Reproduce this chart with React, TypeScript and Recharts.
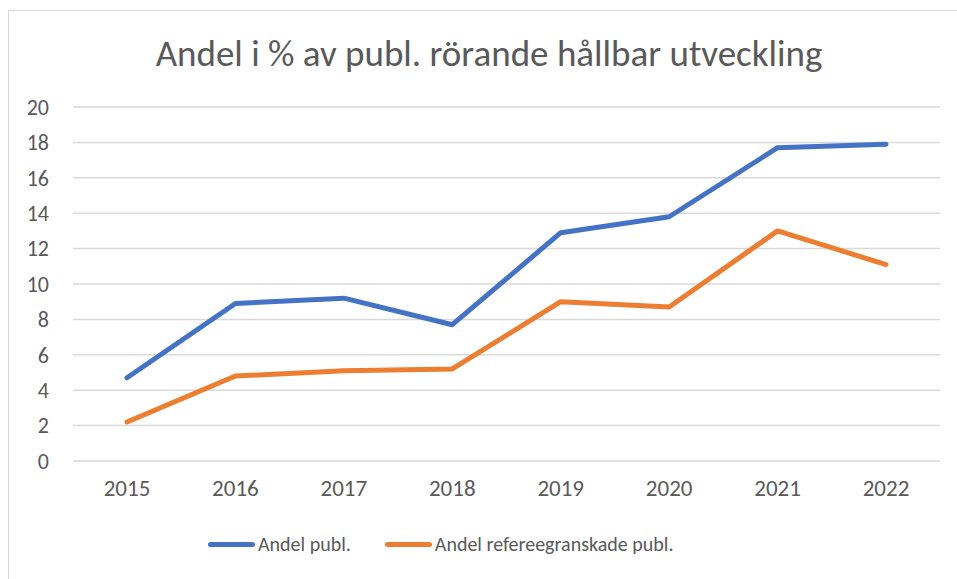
import { LineChart, Line, XAxis, YAxis, CartesianGrid } from "recharts";

const years = ["2015", "2016", "2017", "2018", "2019", "2020", "2021", "2022"];
const andelPubl = [4.7, 8.9, 9.2, 7.7, 12.9, 13.8, 17.7, 17.9];
const andelReferee = [2.2, 4.8, 5.1, 5.2, 9.0, 8.7, 13.0, 11.1];
const yTicks = [0, 2, 4, 6, 8, 10, 12, 14, 16, 18, 20];

const seriesNames = ["Andel publ.", "Andel refereegranskade publ."];
const colors = ["#4472C4", "#ED7D31"];

const chartData = years.map((year, i) => ({
  year,
  publ: andelPubl[i],
  referee: andelReferee[i],
}));

const font = "Carlito, 'Open Sans', 'Noto Sans', sans-serif";
const textColor = "#595959";

// legend drawn as plain html so it doesn't eat plot height
function ChartLegend() {
  return (
    <div
      style={{
        position: "absolute",
        top: 532,
        left: 208,
        display: "flex",
        gap: 34,
        fontFamily: font,
        fontSize: 20,
        color: textColor,
        whiteSpace: "nowrap",
      }}
    >
      {seriesNames.map((name, i) => (
        <div key={name} style={{ display: "flex", alignItems: "center" }}>
          <span
            style={{
              display: "inline-block",
              width: 47,
              height: 5,
              borderRadius: 3,
              background: colors[i],
              marginRight: 3,
            }}
          />
          {name}
        </div>
      ))}
    </div>
  );
}

export default function App() {
  return (
    <div
      style={{
        position: "absolute",
        left: 0,
        top: 0,
        width: 957,
        height: 579,
        background: "#fff",
        overflow: "hidden",
      }}
    >
      <div
        style={{
          position: "absolute",
          left: 8,
          top: 10,
          width: 980,
          height: 600,
          border: "1px solid #d9d9d9",
        }}
      />
      <div
        style={{
          position: "absolute",
          top: 31,
          left: 0,
          width: 978,
          textAlign: "center",
          fontFamily: font,
          fontSize: 37,
          color: textColor,
          whiteSpace: "nowrap",
        }}
      >
        Andel i % av publ. rörande hållbar utveckling
      </div>
      <LineChart
        width={957}
        height={579}
        data={chartData}
        margin={{ top: 107, right: 17, left: 8, bottom: 68 }}
        style={{ position: "absolute", left: 0, top: 0 }}
      >
        <CartesianGrid vertical={false} stroke="#d9d9d9" strokeWidth={1.5} />
        <XAxis
          dataKey="year"
          height={50}
          axisLine={false}
          tickLine={false}
          tickSize={0}
          tickMargin={19}
          padding={{ left: 54, right: 54 }}
          tick={{ fill: textColor, fontSize: 23, fontFamily: font }}
          interval={0}
        />
        <YAxis
          width={65}
          domain={[0, 20]}
          ticks={yTicks}
          interval={0}
          axisLine={false}
          tickLine={false}
          tickSize={0}
          tickMargin={24}
          tick={{ fill: textColor, fontSize: 22, fontFamily: font }}
        />
        <Line
          type="linear"
          dataKey="publ"
          name={seriesNames[0]}
          stroke={colors[0]}
          strokeWidth={5}
          strokeLinecap="round"
          strokeLinejoin="round"
          dot={false}
          activeDot={false}
          isAnimationActive={false}
        />
        <Line
          type="linear"
          dataKey="referee"
          name={seriesNames[1]}
          stroke={colors[1]}
          strokeWidth={5}
          strokeLinecap="round"
          strokeLinejoin="round"
          dot={false}
          activeDot={false}
          isAnimationActive={false}
        />
      </LineChart>
      <ChartLegend />
    </div>
  );
}
